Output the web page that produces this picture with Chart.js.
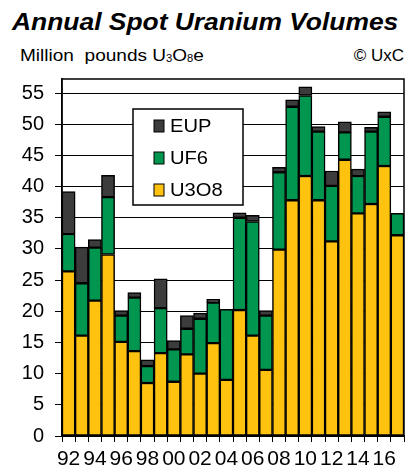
<!DOCTYPE html>
<html>
<head>
<meta charset="utf-8">
<script src="https://cdn.jsdelivr.net/npm/chart.js"></script>
<style>
  body { margin: 0; background: #fff; }
  #marco { position: relative; width: 409px; height: 473px; font-family: "Liberation Sans", Arial, sans-serif; }
  #titulo { position: absolute; left: 12px; top: 8px; font-size: 24px; font-weight: bold; font-style: italic; white-space: nowrap; transform: scaleX(1.1); transform-origin: left top; }
  #unidad { position: absolute; left: 20px; top: 46px; font-size: 17px; white-space: nowrap; transform: scaleX(1.12); transform-origin: left top; }
  #unidad sub { font-size: 10px; vertical-align: -1px; }
  #fuente { position: absolute; right: 5px; top: 46px; font-size: 17px; white-space: nowrap; }
  canvas { position: absolute; left: 0; top: 0; }
</style>
</head>
<body>
<div id="marco">
  <div id="titulo">Annual Spot Uranium Volumes</div>
  <div id="unidad">Million&nbsp; pounds U<sub>3</sub>O<sub>8</sub>e</div>
  <div id="fuente">© UxC</div>
  <canvas id="grafico" width="409" height="473"></canvas>
</div>
<script>
// Datos (millones de libras U3O8e)
const anios = ['92','93','94','95','96','97','98','99','00','01','02','03','04','05','06','07','08','09','10','11','12','13','14','15','16','17'];
const u3o8 = [26.4, 16.1, 21.7, 29.1, 15.1, 13.6, 8.5, 13.3, 8.7, 13.1, 10.0, 14.9, 9.0, 20.2, 16.1, 10.6, 29.9, 37.8, 41.7, 37.8, 31.2, 44.3, 35.7, 37.2, 43.3, 32.2];
const uf6 = [6.0, 8.4, 8.5, 9.2, 4.2, 8.6, 2.7, 7.2, 5.2, 4.1, 8.8, 6.5, 11.3, 14.8, 18.3, 8.7, 12.4, 15.0, 12.9, 11.0, 8.9, 4.4, 6.0, 11.6, 7.9, 3.5];
const eup = [6.8, 5.8, 1.3, 3.5, 0.8, 0.8, 1.0, 4.7, 1.4, 2.1, 0.9, 0.5, 0, 0.8, 1.0, 0.8, 0.8, 1.1, 1.4, 0.8, 2.4, 1.7, 1.1, 0.7, 0.8, 0];
const marcasY = [0, 5, 10, 15, 20, 25, 30, 35, 40, 45, 50, 55];

const colorU3O8 = '#FFC20E';
const colorUF6 = '#00964F';
const colorEUP = '#3C3C3C';

// Marco superior y derecho del area del grafico
const marcoPlugin = {
    id: 'marco',
    afterDraw(chart) {
        const a = chart.chartArea;
        const ctx = chart.ctx;
        ctx.save();
        ctx.strokeStyle = '#000';
        ctx.lineWidth = 1.5;
        ctx.strokeRect(a.left, a.top, a.right - a.left, a.bottom - a.top);
        ctx.restore();
    }
};

// Leyenda dentro del grafico
const leyendaPlugin = {
    id: 'leyendaDentro',
    afterDraw(chart) {
        const ctx = chart.ctx;
        const x = 133, y = 109, w = 110, h = 96;
        ctx.save();
        ctx.fillStyle = '#fff';
        ctx.fillRect(x, y, w, h);
        ctx.strokeStyle = '#000';
        ctx.lineWidth = 1.5;
        ctx.strokeRect(x, y, w, h);
        const items = [['EUP', colorEUP], ['UF6', colorUF6], ['U3O8', colorU3O8]];
        items.forEach((it, i) => {
            const cy = y + 17 + i * 32;
            ctx.fillStyle = it[1];
            ctx.fillRect(154, cy - 6, 10, 12);
            ctx.lineWidth = 1;
            ctx.strokeRect(154, cy - 6, 10, 12);
            ctx.fillStyle = '#000';
            ctx.font = '18px "Liberation Sans", Arial, sans-serif';
            ctx.textBaseline = 'middle';
            ctx.save();
            ctx.translate(170, cy + 1);
            ctx.scale(1.12, 1);
            ctx.fillText(it[0], 0, 0);
            ctx.restore();
        });
        ctx.restore();
    }
};

const ctx = document.getElementById('grafico').getContext('2d');
new Chart(ctx, {
    type: 'bar',
    data: {
        labels: anios,
        datasets: [
            { label: 'U3O8', data: u3o8, backgroundColor: colorU3O8 },
            { label: 'UF6', data: uf6, backgroundColor: colorUF6 },
            { label: 'EUP', data: eup, backgroundColor: colorEUP }
        ].map(d => Object.assign(d, {
            borderColor: '#000',
            borderWidth: 1.5,
            borderSkipped: false,
            barPercentage: 1,
            categoryPercentage: 1
        }))
    },
    options: {
        responsive: false,
        animation: false,
        devicePixelRatio: 1,
        layout: { padding: { top: 79, right: 5, left: 0, bottom: 0 } },
        plugins: {
            legend: { display: false },
            tooltip: { enabled: false }
        },
        scales: {
            x: {
                stacked: true,
                offset: true,
                grid: { display: true, drawOnChartArea: false, drawTicks: true, tickLength: 6, color: '#000', lineWidth: 1, offset: true },
                border: { color: '#000', width: 1.5 },
                ticks: {
                    autoSkip: false,
                    maxRotation: 0,
                    minRotation: 0,
                    padding: 5,
                    color: '#000',
                    font: { family: '"Liberation Sans", Arial, sans-serif', size: 21 },
                    callback: (v, i) => (i % 2 === 0 ? anios[i] : '')
                },
                afterFit: s => { s.height = 37; }
            },
            y: {
                stacked: true,
                min: 0,
                max: 57.25,
                grid: { color: '#000', lineWidth: 1, tickLength: 7 },
                border: { color: '#000', width: 1.5 },
                ticks: {
                    stepSize: 5,
                    padding: 11,
                    color: '#000',
                    font: { family: '"Liberation Sans", Arial, sans-serif', size: 20 }
                },
                afterBuildTicks: s => { s.ticks = marcasY.map(v => ({ value: v })); },
                afterFit: s => { s.width = 62; }
            }
        }
    },
    plugins: [marcoPlugin, leyendaPlugin]
});
</script>
</body>
</html>
